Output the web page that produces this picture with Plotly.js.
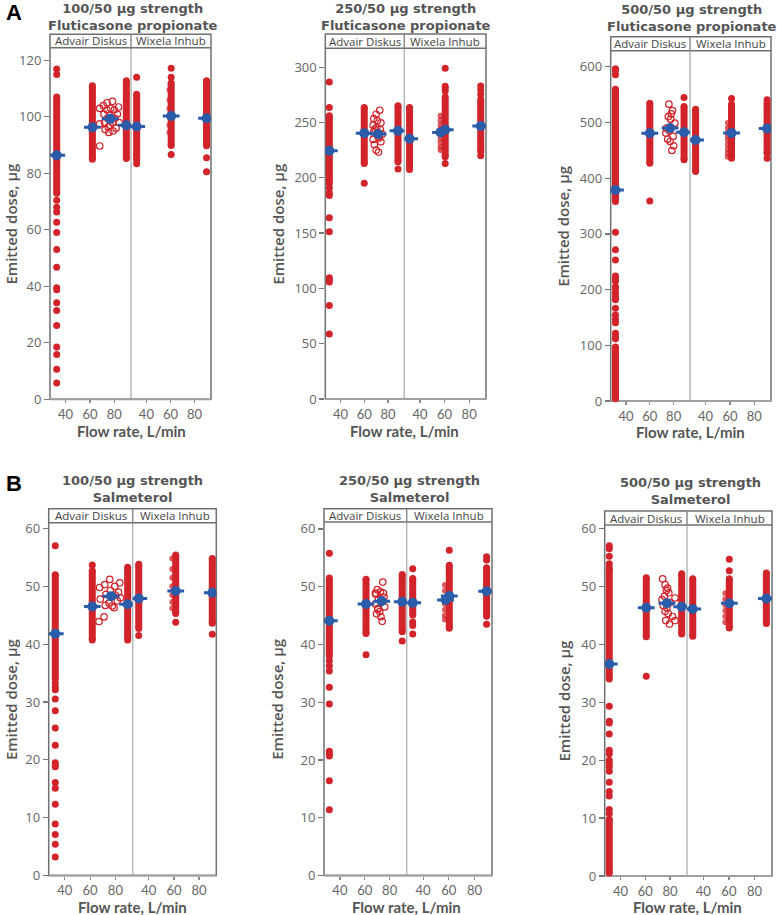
<!DOCTYPE html>
<html><head><meta charset="utf-8">
<script src="https://cdn.plot.ly/plotly-3.0.1.min.js"></script>
<style>html,body{margin:0;padding:0;background:#fff}#chart{width:777px;height:915px}</style>
</head><body><div id="chart"></div>
<script>
// ===== DATA =====
// column order in each panel: Advair 30, Advair 60, Advair 90, Wixela 30, Wixela 60, Wixela 90
const panelTitle1 = ['100/50 µg strength','250/50 µg strength','500/50 µg strength','100/50 µg strength','250/50 µg strength','500/50 µg strength'];
const panelTitle2 = ['Fluticasone propionate','Fluticasone propionate','Fluticasone propionate','Salmeterol','Salmeterol','Salmeterol'];
const deviceNames = ['Advair Diskus','Wixela Inhub'];
const xTickVals = [40, 60, 80];
const xTitle = 'Flow rate, L/min';
const yTitle = 'Emitted dose, µg';
const panelLetters = ['A','B'];

// ---- A1: 100/50 fluticasone propionate ----
const A1_colX = [32.7, 62.0, 89.9, 31.9, 60.6, 90.0];
const A1_runs = [[[73,107]], [[85,111]], [[85.3,112.8]], [[84.7,108]], [[89.9,112]], [[89.8,112.8]]];
const A1_pts = [[117,115,70.5,68,66.3,62.7,59.1,53,46.8,39.5,38.8,34.2,31.4,26.1,18.5,15.9,10.6,5.8], [], [], [114,83.4], [117.2,114,86.7], [85.5,80.6]];
const A1_openX = [68,68,68,71,71.5,72,72.5,74,74,74.5,75,75.5,76,76.5,77,78.5,78.5,79,80,80.5,81.5,82.5,83.5,84];
const A1_openY = [103,97.5,89.7,104,101,98,95.5,105,102.5,99.5,96.5,94.5,100.5,97,103,105.5,98,95,102.5,99.5,96,101,103.5,98];
const A1_jitX = [59.2,59.2,59.2,59.2,59.2,59.2];
const A1_jitY = [109.5,106,103,100,97,94.5];
const A1_advMeanX = [32.7, 62.0, 76.6, 89.9];
const A1_advMeanY = [86.4, 96.3, 99.3, 97.0];
const A1_wixMeanX = [31.9, 60.6, 90.0];
const A1_wixMeanY = [96.6, 100.3, 99.5];

// ---- A2: 250/50 fluticasone propionate ----
const A2_colX = [30.6, 60.0, 88.4, 31.5, 60.5, 89.4];
const A2_runs = [[[195,256]], [[212.9,263.5]], [[214.4,265]], [[212.9,263.5]], [[218.9,273]], [[223.4,270.7]]];
const A2_pts = [[286.6,263.5,191,186.5,184,163.8,151.1,109.6,107.5,105.8,84.6,58.7], [195], [207.8], [209.9,207.5], [299,282.7,280.6,278.5,212.9], [283,279.4,275.2,219.8]];
const A2_openX = [73,70,68,71,74,67.5,70.5,73.5,68,75,71.5,67.5,74,70,72,69,72.5,68.5];
const A2_openY = [261,257.4,253.5,251.4,249.6,247.5,245.4,243.6,241.5,239.4,237,234.6,232.5,225,223.2,244,236,230];
const A2_jitX = [56.7,56.7,56.7,56.7,56.7,56.7,56.7,56.7,56.7];
const A2_jitY = [256,252,248,244,240,236,232,228,225];
const A2_advMeanX = [30.6, 60.0, 71.7, 88.4];
const A2_advMeanY = [224.5, 240.3, 239.5, 242.5];
const A2_wixMeanX = [31.5, 56.7, 60.5, 89.4];
const A2_wixMeanY = [235.3, 241.0, 243.3, 246.8];

// ---- A3: 500/50 fluticasone propionate ----
const A3_colX = [31.2, 60.0, 88.7, 31.8, 61.3, 90.5];
const A3_runs = [[[4,97],[358,560]], [[427,534.8]], [[433,528.7]], [[412,524]], [[436,532.9]], [[444.8,534.8]]];
const A3_pts = [[596.4,592.8,585.6,303,271.8,253.3,224.5,220,215,205.3,200.6,193.4,187.4,182,166.5,154.5,146.7,140.7,121.6,115.5,112], [359], [544.8], [], [543], [541,435.9]];
const A3_openX = [76,79,78,75.5,77.5,81,74,76.5,73.5,79.5,75,77,80,78.5];
const A3_openY = [532.9,521.5,515.6,510.8,506,498.9,489.9,485.1,481,475,470.2,466,458.2,449.8];
const A3_jitX = [58.3,58.3,58.3,58.3,58.3,58.3,58.3,58.3,58.3];
const A3_jitY = [499,490,482,475,468,460,452,445,438.6];
const A3_advMeanX = [31.2, 60.0, 77.0, 88.7];
const A3_advMeanY = [379, 480.8, 490, 482.6];
const A3_wixMeanX = [31.8, 61.3, 90.5];
const A3_wixMeanY = [468.8, 481, 489.2];

// ---- B1: 100/50 salmeterol ----
const B1_colX = [32.4, 61.7, 89.7, 32.0, 61.4, 90.5];
const B1_runs = [[[34,52]], [[40.7,52.7]], [[40.7,53.3]], [[42.7,53.8]], [[45.3,55.4]], [[43.6,54.8]]];
const B1_pts = [[57,33.3,32.6,32.1,30.5,28.5,25.5,22.5,19.5,19.1,18.8,16.1,15.1,12.3,8.9,7.1,5.4,3.2], [53.7], [], [41.5], [43.8], [41.7]];
const B1_openX = [67.5,68,67,71.5,72.5,72,71,75.5,76,75,77.5,79.5,80,79,82.5,83.5,84,81.5];
const B1_openY = [49.8,47.8,43.9,50.3,48.6,46.7,44.7,51.2,49.3,47.1,46.6,50.0,48.5,46.3,49.0,50.6,48.0,47.5];
const B1_jitX = [58.7,58.7,58.7,58.7,58.7,58.7,58.7];
const B1_jitY = [54.8,53,51.5,50,48.5,47.3,46.2];
const B1_advMeanX = [32.4, 61.7, 76.6, 89.7];
const B1_advMeanY = [41.8, 46.5, 48.3, 46.9];
const B1_wixMeanX = [32.0, 61.4, 90.5];
const B1_wixMeanY = [47.9, 49.2, 48.9];

// ---- B2: 250/50 salmeterol ----
const B2_colX = [31.5, 61.0, 90.1, 31.9, 60.4, 89.5];
const B2_runs = [[[38,51.5]], [[41.9,51.3]], [[42.2,52.1]], [[45.1,51.4]], [[42.8,53.7]], [[44.9,53.3]]];
const B2_pts = [[55.8,37.2,36.3,35.4,32.6,29.7,21.5,21,20.7,16.4,11.4], [38.2], [40.6], [53.1,43.9,43.3,41.8], [56.3], [55.2,54.6,43.5]];
const B2_openX = [74.5,70,72.5,69,75.5,71,73.5,68.5,76,70.5,72,69.5,73,74,68.5,75,70.5];
const B2_openY = [50.8,49.5,49.1,48.7,48.2,47.8,47.4,47.0,46.5,46.1,45.7,45.3,44.8,44.0,48.9,48.9,46.2];
const B2_jitX = [57,57,57,57,57,57,57];
const B2_jitY = [50.3,49.3,48,47,46,45,44.3];
const B2_advMeanX = [31.5, 61.0, 73.6, 90.1];
const B2_advMeanY = [44.1, 47.0, 47.5, 47.4];
const B2_wixMeanX = [31.9, 57.5, 60.4, 89.5];
const B2_wixMeanY = [47.2, 47.7, 48.4, 49.2];

// ---- B3: 500/50 salmeterol ----
const B3_colX = [30.9, 60.8, 89.4, 31.7, 60.3, 89.3];
const B3_runs = [[[0.5,9.8],[34,53.2]], [[41.3,51.5]], [[41.8,52.2]], [[41.4,51.3]], [[42.8,51.3]], [[43.6,52.3]]];
const B3_pts = [[57.0,56.5,55.2,53.9,29.3,26.7,26.4,24.5,21.7,21.1,20,19.4,18.8,18.1,16.2,14.6,13.8,11.5,10.8], [34.5], [], [], [54.7,52.7], []];
const B3_openX = [74,76,78,77,79,75.5,73.5,80,74.5,77.5,76,78.5,82,76.5,79.5,84,84];
const B3_openY = [51.3,50.3,49.7,49.3,48.9,48.3,47.7,47.2,46.7,46.3,45.7,45.3,44.8,44.1,43.5,48.0,44.1];
const B3_jitX = [57.2,57.2,57.2,57.2,57.2,57.2];
const B3_jitY = [48.8,47.8,46.8,45.8,44.8,43.8];
const B3_advMeanX = [30.9, 60.8, 77.5, 89.4];
const B3_advMeanY = [36.6, 46.3, 47.1, 46.5];
const B3_wixMeanX = [31.7, 60.3, 89.3];
const B3_wixMeanY = [46.1, 47.1, 47.9];

// ===== LAYOUT GEOMETRY (pixels of the 777x915 page) =====
const W = 777, H = 915;
const geom = [
  {xa:[50,131], xb:[131,211], plot:[47.7,399.3], head:[34.3,47.7], yr:[0,124.5], dtick:20, tx:133, tTop:0, xty:431, ytx:0},
  {xa:[325.3,404.3], xb:[404.3,486], plot:[48.3,399], head:[34,48.3], yr:[0,317], dtick:50, tx:406, tTop:0, xty:431, ytx:267},
  {xa:[610.7,690], xb:[690,771], plot:[50.7,401], head:[36.7,50.7], yr:[0,629], dtick:100, tx:692, tTop:1, xty:432, ytx:552},
  {xa:[48.7,132.7], xb:[132.7,216.3], plot:[522.7,875.5], head:[508.7,522.7], yr:[0,61], dtick:10, tx:132.5, tTop:472, xty:906.5, ytx:0},
  {xa:[324,406.7], xb:[406.7,492], plot:[522,875.5], head:[508.7,522], yr:[0,61.2], dtick:10, tx:409, tTop:472, xty:906.5, ytx:266},
  {xa:[604.7,687], xb:[687,772], plot:[525,876], head:[511,525], yr:[0,60.6], dtick:10, tx:690, tTop:474, xty:906.5, ytx:552}
];
const panelData = [
  {colX:A1_colX, runs:A1_runs, pts:A1_pts, openX:A1_openX, openY:A1_openY, jitX:A1_jitX, jitY:A1_jitY, amX:A1_advMeanX, amY:A1_advMeanY, wmX:A1_wixMeanX, wmY:A1_wixMeanY},
  {colX:A2_colX, runs:A2_runs, pts:A2_pts, openX:A2_openX, openY:A2_openY, jitX:A2_jitX, jitY:A2_jitY, amX:A2_advMeanX, amY:A2_advMeanY, wmX:A2_wixMeanX, wmY:A2_wixMeanY},
  {colX:A3_colX, runs:A3_runs, pts:A3_pts, openX:A3_openX, openY:A3_openY, jitX:A3_jitX, jitY:A3_jitY, amX:A3_advMeanX, amY:A3_advMeanY, wmX:A3_wixMeanX, wmY:A3_wixMeanY},
  {colX:B1_colX, runs:B1_runs, pts:B1_pts, openX:B1_openX, openY:B1_openY, jitX:B1_jitX, jitY:B1_jitY, amX:B1_advMeanX, amY:B1_advMeanY, wmX:B1_wixMeanX, wmY:B1_wixMeanY},
  {colX:B2_colX, runs:B2_runs, pts:B2_pts, openX:B2_openX, openY:B2_openY, jitX:B2_jitX, jitY:B2_jitY, amX:B2_advMeanX, amY:B2_advMeanY, wmX:B2_wixMeanX, wmY:B2_wixMeanY},
  {colX:B3_colX, runs:B3_runs, pts:B3_pts, openX:B3_openX, openY:B3_openY, jitX:B3_jitX, jitY:B3_jitY, amX:B3_advMeanX, amY:B3_advMeanY, wmX:B3_wixMeanX, wmY:B3_wixMeanY}
];

const RED = '#d2232a', BLUE = '#2a5caa';
const FONT = 'Open Sans, Lato, sans-serif';
const XFONT = 'Lato, Open Sans, sans-serif';
const TFONT = 'DejaVu Sans, Verdana, sans-serif';
const px = v => v / W;
const py = v => 1 - v / H;
const sfx = n => (n === 1 ? '' : String(n));

const traces = [];
const layout = {
  width: W, height: H, margin: {l:0, r:0, t:0, b:0},
  paper_bgcolor: '#fff', plot_bgcolor: 'rgba(0,0,0,0)',
  showlegend: false, shapes: [], annotations: [],
  font: {family: FONT, color: '#555'}
};

geom.forEach((g, i) => {
  const d = panelData[i];
  const ax = 2*i + 1, bx = 2*i + 2, yi = i + 1;
  const xA = 'x' + sfx(ax), xB = 'x' + sfx(bx), yA = 'y' + sfx(yi);
  const xaxisCommon = {
    range: [27.2, 93.7], tickvals: xTickVals, ticks: 'outside', ticklen: 3, tickwidth: 1.2,
    tickcolor: '#8a8a8a', tickfont: {family: XFONT, size: 13, color: '#666'},
    showline: false, showgrid: false, zeroline: false, anchor: yA, fixedrange: true
  };
  layout['xaxis' + sfx(ax)] = Object.assign({}, xaxisCommon, {domain: [px(g.xa[0]), px(g.xa[1])]});
  layout['xaxis' + sfx(bx)] = Object.assign({}, xaxisCommon, {domain: [px(g.xb[0]), px(g.xb[1])]});
  layout['yaxis' + sfx(yi)] = {
    domain: [py(g.plot[1]), py(g.plot[0])], range: g.yr, tick0: 0, dtick: g.dtick,
    ticks: 'outside', ticklen: 5, tickwidth: 1.2, tickcolor: '#777',
    tickfont: {family: FONT, size: 13, color: '#666'},
    showline: false, showgrid: false, zeroline: false, anchor: xA, fixedrange: true
  };

  // frame and header
  layout.shapes.push(
    {type:'line', xref:'paper', yref:'paper', x0:px(g.xa[1]), x1:px(g.xa[1]), y0:py(g.plot[1]), y1:py(g.plot[0]), line:{color:'#b8b8b8', width:1.5}, layer:'below'},
    {type:'rect', xref:'paper', yref:'paper', x0:px(g.xa[0]), x1:px(g.xb[1]), y0:py(g.plot[1]), y1:py(g.head[0]), line:{color:'#707070', width:1.5}, layer:'below'},
    {type:'line', xref:'paper', yref:'paper', x0:px(g.xa[0]), x1:px(g.xb[1]), y0:py(g.plot[1]), y1:py(g.plot[1]), line:{color:'#a0a0a0', width:2}, layer:'below'},
    {type:'line', xref:'paper', yref:'paper', x0:px(g.xa[0]), x1:px(g.xb[1]), y0:py(g.head[1]), y1:py(g.head[1]), line:{color:'#707070', width:1.5}},
    {type:'line', xref:'paper', yref:'paper', x0:px(g.xa[1]), x1:px(g.xa[1]), y0:py(g.head[1]), y1:py(g.head[0]), line:{color:'#8a8a8a', width:1.5}}
  );
  const hy = py((g.head[0] + g.head[1]) / 2);
  layout.annotations.push(
    {xref:'paper', yref:'paper', x:px((g.xa[0]+g.xa[1])/2), y:hy, text:deviceNames[0], showarrow:false, xanchor:'center', yanchor:'middle', borderpad:0, font:{family:FONT, size:11.5, color:'#444'}},
    {xref:'paper', yref:'paper', x:px((g.xb[0]+g.xb[1])/2), y:hy, text:deviceNames[1], showarrow:false, xanchor:'center', yanchor:'middle', borderpad:0, font:{family:FONT, size:11.5, color:'#444'}},
    {xref:'paper', yref:'paper', x:px(g.tx), y:py(g.tTop), text:panelTitle1[i] + '<br>' + panelTitle2[i], showarrow:false, xanchor:'center', yanchor:'top', borderpad:0, align:'center', font:{family:TFONT, size:13, color:'#555', weight:700}},
    {xref:'paper', yref:'paper', x:px(g.xa[1]), y:py(g.xty), text:xTitle, showarrow:false, xanchor:'center', yanchor:'middle', borderpad:0, font:{family:XFONT, size:15, color:'#555', weight:700}},
    {xref:'paper', yref:'paper', x:px(g.ytx), y:py((g.plot[0]+g.plot[1])/2), text:yTitle, textangle:-90, showarrow:false, xanchor:'left', yanchor:'middle', borderpad:0, font:{family:FONT, size:15, color:'#555', weight:600}}
  );

  // columns: 0..2 Advair, 3..5 Wixela
  [[0,1,2,xA],[3,4,5,xB]].forEach(grp => {
    const xref = grp[3];
    const rx = [], ry = [], qx = [], qy = [];
    grp.slice(0,3).forEach(c => {
      d.runs[c].forEach(r => { rx.push(d.colX[c], d.colX[c], null); ry.push(r[0], r[1], null); });
      d.pts[c].forEach(v => { qx.push(d.colX[c]); qy.push(v); });
    });
    traces.push({type:'scatter', mode:'lines+markers', x:rx, y:ry, xaxis:xref, yaxis:yA, connectgaps:false,
      line:{color:RED, width:7}, marker:{color:RED, size:7}, hoverinfo:'skip', cliponaxis:false});
    traces.push({type:'scatter', mode:'markers', x:qx, y:qy, xaxis:xref, yaxis:yA,
      marker:{color:RED, size:7}, hoverinfo:'skip', cliponaxis:false});
  });
  // open circles (Advair, jittered group)
  traces.push({type:'scatter', mode:'markers', x:d.openX, y:d.openY, xaxis:xA, yaxis:yA,
    marker:{symbol:'circle-open', color:RED, size:6.5, line:{width:1.2}}, hoverinfo:'skip'});
  // jittered Wixela group
  traces.push({type:'scatter', mode:'markers', x:d.jitX, y:d.jitY, xaxis:xB, yaxis:yA,
    marker:{color:RED, size:6, opacity:0.75}, hoverinfo:'skip'});
  // means
  [[d.amX, d.amY, xA], [d.wmX, d.wmY, xB]].forEach(m => {
    traces.push({type:'scatter', mode:'markers', x:m[0], y:m[1], xaxis:m[2], yaxis:yA,
      marker:{symbol:'line-ew', size:12, line:{color:BLUE, width:3}}, hoverinfo:'skip'});
    traces.push({type:'scatter', mode:'markers', x:m[0], y:m[1], xaxis:m[2], yaxis:yA,
      marker:{symbol:'circle', color:BLUE, size:10}, hoverinfo:'skip'});
  });
});

layout.annotations.push(
  {xref:'paper', yref:'paper', x:px(14), y:py(13), text:panelLetters[0], showarrow:false, xanchor:'center', yanchor:'middle', borderpad:0, font:{family:'Liberation Sans, Arial, sans-serif', size:22, color:'#000', weight:700}},
  {xref:'paper', yref:'paper', x:px(14), y:py(483), text:panelLetters[1], showarrow:false, xanchor:'center', yanchor:'middle', borderpad:0, font:{family:'Liberation Sans, Arial, sans-serif', size:22, color:'#000', weight:700}}
);

Plotly.newPlot('chart', traces, layout, {staticPlot:true, displayModeBar:false});
</script>
</body></html>
